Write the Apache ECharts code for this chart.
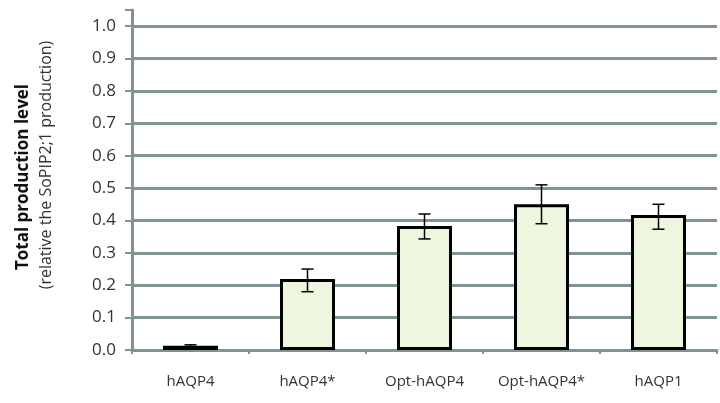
<!DOCTYPE html>
<html><head><meta charset="utf-8">
<script src="https://cdn.jsdelivr.net/npm/echarts@6/dist/echarts.min.js"></script>
<style>html,body{margin:0;padding:0;background:#fff}#c{width:720px;height:403px}</style>
</head><body><div id="c"></div>
<script>
const categories = ['hAQP4', 'hAQP4*', 'Opt-hAQP4', 'Opt-hAQP4*', 'hAQP1'];
const values = [0.013, 0.219, 0.383, 0.45, 0.417];
const errLow = [0.010, 0.18, 0.343, 0.39, 0.373];
const errHigh = [0.016, 0.25, 0.42, 0.51, 0.45];
const yTitle1 = 'Total production level';
const yTitle2 = '(relative the SoPIP2;1 production)';

const gridColor = '#7f9393';
const chart = echarts.init(document.getElementById('c'));
chart.setOption({
  animation: false,
  backgroundColor: '#fff',
  grid: { left: 132, right: 3, top: 10, bottom: 53 },
  xAxis: {
    type: 'category', data: categories,
    axisLine: { lineStyle: { color: gridColor, width: 3 } },
    axisTick: { show: true, length: 4, lineStyle: { color: gridColor, width: 2 } },
    axisLabel: { color: '#333', fontSize: 15, fontFamily: 'Open Sans', margin: 24, interval: 0, hideOverlap: false }
  },
  yAxis: {
    type: 'value', min: 0, max: 1.05, interval: 0.1,
    axisLine: { show: true, lineStyle: { color: gridColor, width: 3 } },
    axisTick: { show: true, length: 7, lineStyle: { color: gridColor, width: 2 } },
    axisLabel: { color: '#333', fontSize: 17, fontFamily: 'Open Sans', margin: 16,
      formatter: v => (Math.abs(Math.round(v*10) - v*10) < 1e-6) ? v.toFixed(1) : '' },
    splitLine: { show: true, showMaxLine: false, lineStyle: { color: gridColor, width: 3 } }
  },
  graphic: [
    { type: 'text', x: 23, y: 177, rotation: Math.PI/2, style: { text: yTitle1, fontSize: 17, fontWeight: 'bold', fontFamily: 'Open Sans', fill: '#111', align: 'center', verticalAlign: 'middle' } },
    { type: 'text', x: 46, y: 165, rotation: Math.PI/2, style: { text: yTitle2, fontSize: 16, fontFamily: 'Open Sans', fill: '#333', align: 'center', verticalAlign: 'middle' } }
  ],
  series: [
    { type: 'bar', data: values, barWidth: 55,
      itemStyle: { color: '#edf6df', borderColor: '#000', borderWidth: 3 } },
    { type: 'custom', data: categories.map((c, i) => [i, errLow[i], errHigh[i]]),
      renderItem: (params, api) => {
        const lo = api.coord([api.value(0), api.value(1)]);
        const hi = api.coord([api.value(0), api.value(2)]);
        const w = 6;
        const st = { stroke: '#000', lineWidth: 1.5 };
        return { type: 'group', children: [
          { type: 'line', shape: { x1: lo[0], y1: lo[1], x2: hi[0], y2: hi[1] }, style: st },
          { type: 'line', shape: { x1: lo[0]-w, y1: lo[1], x2: lo[0]+w, y2: lo[1] }, style: st },
          { type: 'line', shape: { x1: hi[0]-w, y1: hi[1], x2: hi[0]+w, y2: hi[1] }, style: st }
        ]};
      }, z: 10 }
  ]
});
</script></body></html>
